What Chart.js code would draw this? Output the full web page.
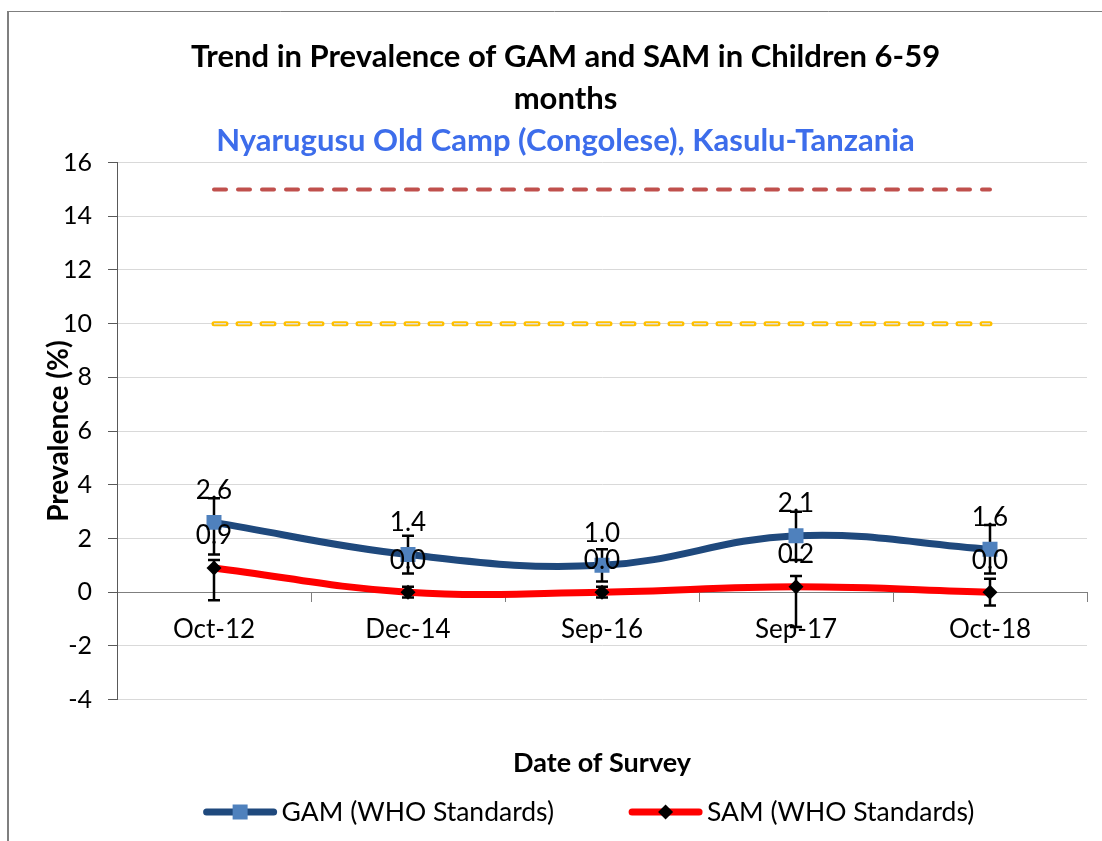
<!DOCTYPE html>
<html>
<head>
<meta charset="utf-8">
<title>Trend in Prevalence of GAM and SAM</title>
<script src="https://cdn.jsdelivr.net/npm/chart.js@4.4.1/dist/chart.umd.min.js"></script>
<style>
  html, body { margin: 0; padding: 0; background: #fff; }
  #wrap { width: 1102px; height: 841px; }
</style>
</head>
<body>
<div id="wrap"><canvas id="trendChart" width="1102" height="841"></canvas></div>
<script>
// Data survei
const surveyDates = ['Oct-12', 'Dec-14', 'Sep-16', 'Sep-17', 'Oct-18'];
const gamValues = [2.6, 1.4, 1.0, 2.1, 1.6];
const samValues = [0.9, 0.0, 0.0, 0.2, 0.0];
// Interval kepercayaan (error bar)
const gamLow = [1.4, 0.7, 0.4, 1.2, 0.7];
const gamHigh = [3.5, 2.1, 1.6, 3.0, 2.5];
const samLow = [-0.3, -0.2, -0.2, -1.3, -0.5];
const samHigh = [1.2, 0.2, 0.2, 0.6, 0.5];
// Ambang batas
const criticalLevel = [15, 15, 15, 15, 15];
const seriousLevel = [10, 10, 10, 10, 10];
// Sumbu Y
const yMin = -4;
const yMax = 16;
const yStep = 2;

const seriesLabels = ['GAM (WHO Standards)', 'SAM (WHO Standards)'];

const FONT = 'Lato, "Open Sans", "Liberation Sans", sans-serif';
Chart.defaults.font.family = FONT;
Chart.defaults.color = '#000';

// Bingkai luar chart
const framePlugin = {
    id: 'frame',
    beforeDraw(chart) {
        const ctx = chart.ctx;
        ctx.save();
        ctx.fillStyle = '#fff';
        ctx.fillRect(0, 0, chart.width, chart.height);
        ctx.strokeStyle = '#7f7f7f';
        ctx.lineWidth = 2;
        ctx.beginPath();
        ctx.moveTo(8, 11);
        ctx.lineTo(8, chart.height);
        ctx.stroke();
        ctx.lineWidth = 1;
        ctx.beginPath();
        ctx.moveTo(7, 11.5);
        ctx.lineTo(chart.width, 11.5);
        ctx.stroke();
        ctx.restore();
    }
};

// Error bar hitam untuk GAM dan SAM
const errorBarPlugin = {
    id: 'errorBars',
    beforeDatasetsDraw(chart) {
        const ctx = chart.ctx;
        const xs = chart.scales.x;
        const ys = chart.scales.y;
        ctx.save();
        ctx.strokeStyle = '#000';
        ctx.lineWidth = 2.5;
        [[gamLow, gamHigh], [samLow, samHigh]].forEach(([lo, hi]) => {
            surveyDates.forEach((d, i) => {
                const px = Math.round(xs.getPixelForValue(i));
                const y1 = ys.getPixelForValue(lo[i]);
                const y2 = ys.getPixelForValue(hi[i]);
                ctx.beginPath();
                ctx.moveTo(px, y1);
                ctx.lineTo(px, y2);
                ctx.moveTo(px - 6, y1);
                ctx.lineTo(px + 6, y1);
                ctx.moveTo(px - 6, y2);
                ctx.lineTo(px + 6, y2);
                ctx.stroke();
            });
        });
        ctx.restore();
    }
};

// Label nilai di atas titik
const valueLabelPlugin = {
    id: 'valueLabels',
    afterDatasetsDraw(chart) {
        const ctx = chart.ctx;
        ctx.save();
        ctx.font = '26px ' + FONT;
        ctx.fillStyle = '#000';
        ctx.textAlign = 'center';
        ctx.textBaseline = 'middle';
        [0, 1].forEach(di => {
            const meta = chart.getDatasetMeta(di);
            const values = chart.data.datasets[di].data;
            meta.data.forEach((pt, i) => {
                ctx.fillText(values[i].toFixed(1), pt.x, pt.y - 32);
            });
        });
        ctx.restore();
    }
};

// Legenda manual (garis + penanda)
const legendPlugin = {
    id: 'customLegend',
    afterDraw(chart) {
        const ctx = chart.ctx;
        const cy = 812;
        const sampleW = 73;
        const gap = 5;
        const itemGap = 75;
        ctx.save();
        ctx.font = '26.5px ' + FONT;
        ctx.textBaseline = 'middle';
        const w0 = ctx.measureText(seriesLabels[0]).width;
        const w1 = ctx.measureText(seriesLabels[1]).width;
        const total = sampleW + gap + w0 + itemGap + sampleW + gap + w1;
        let x = 589 - total / 2;
        const items = [
            {text: seriesLabels[0], w: w0, line: '#1F497D', marker: 'rect', fill: '#4F81BD'},
            {text: seriesLabels[1], w: w1, line: '#FF0000', marker: 'diamond', fill: '#000'}
        ];
        items.forEach(it => {
            ctx.strokeStyle = it.line;
            ctx.lineWidth = 7;
            ctx.lineCap = 'round';
            ctx.beginPath();
            ctx.moveTo(x + 3, cy);
            ctx.lineTo(x + sampleW - 3, cy);
            ctx.stroke();
            const mx = x + sampleW / 2;
            ctx.fillStyle = it.fill;
            ctx.beginPath();
            if (it.marker === 'rect') {
                ctx.rect(mx - 7.5, cy - 7.5, 15, 15);
            } else {
                ctx.moveTo(mx - 7.5, cy);
                ctx.lineTo(mx, cy - 7.5);
                ctx.lineTo(mx + 7.5, cy);
                ctx.lineTo(mx, cy + 7.5);
                ctx.closePath();
            }
            ctx.fill();
            ctx.fillStyle = '#000';
            ctx.textAlign = 'left';
            ctx.fillText(it.text, x + sampleW + gap, cy);
            x += sampleW + gap + it.w + itemGap;
        });
        ctx.restore();
    }
};

const ctx = document.getElementById('trendChart').getContext('2d');
window.trendChart = new Chart(ctx, {
    type: 'line',
    data: {
        labels: surveyDates,
        datasets: [
            {
                label: seriesLabels[0],
                data: gamValues,
                xAxisID: 'x',
                borderColor: '#1F497D',
                borderWidth: 7,
                tension: 0.4,
                pointStyle: 'rect',
                pointRadius: 10.6,
                pointHoverRadius: 10.6,
                pointBackgroundColor: '#4F81BD',
                pointBorderColor: '#4F81BD',
                pointBorderWidth: 0,
                fill: false
            },
            {
                label: seriesLabels[1],
                data: samValues,
                xAxisID: 'x',
                borderColor: '#FF0000',
                borderWidth: 7,
                tension: 0.4,
                pointStyle: 'rectRot',
                pointRadius: 7.5,
                pointHoverRadius: 7.5,
                pointBackgroundColor: '#000',
                pointBorderColor: '#000',
                pointBorderWidth: 0,
                fill: false
            },
            {
                label: 'Critical (15%)',
                data: criticalLevel,
                xAxisID: 'x',
                borderColor: '#C0504D',
                borderWidth: 4,
                borderDash: [12, 12],
                borderCapStyle: 'round',
                pointRadius: 0,
                tension: 0,
                fill: false
            },
            {
                label: 'Serious inner',
                data: seriousLevel,
                xAxisID: 'x',
                borderColor: '#E2DFD2',
                borderWidth: 1.5,
                borderDash: [12, 12],
                borderCapStyle: 'butt',
                pointRadius: 0,
                tension: 0,
                fill: false
            },
            {
                label: 'Serious (10%)',
                data: seriousLevel,
                xAxisID: 'x',
                borderColor: '#FFC000',
                borderWidth: 5,
                borderDash: [12, 12],
                borderCapStyle: 'round',
                pointRadius: 0,
                tension: 0,
                fill: false
            }
        ]
    },
    options: {
        responsive: false,
        animation: false,
        events: [],
        layout: {
            // padding kiri agar judul berada di tengah seperti aslinya
            padding: {top: 24, left: 44, right: 15, bottom: 0}
        },
        scales: {
            x: {
                type: 'category',
                position: {y: 0},
                offset: true,
                grid: {
                    offset: true,
                    drawOnChartArea: false,
                    tickLength: 9,
                    color: '#7F7F7F'
                },
                border: {color: '#7F7F7F', width: 1},
                ticks: {
                    font: {size: 26},
                    color: '#000',
                    padding: 13,
                    maxRotation: 0,
                    autoSkip: false
                }
            },
            xTitle: {
                type: 'category',
                axis: 'x',
                position: 'bottom',
                offset: true,
                ticks: {display: false},
                grid: {display: false, drawTicks: false},
                border: {display: false},
                title: {
                    display: true,
                    text: 'Date of Survey',
                    font: {size: 27, weight: 'bold'},
                    color: '#000',
                    padding: {top: 47, bottom: 62}
                }
            },
            y: {
                min: yMin,
                max: yMax,
                ticks: {
                    stepSize: yStep,
                    font: {size: 25},
                    color: '#000',
                    padding: 16
                },
                grid: {
                    color: '#D9D9D9',
                    tickColor: '#595959',
                    tickLength: 9,
                    lineWidth: 1
                },
                border: {color: '#595959', width: 1},
                title: {
                    display: true,
                    text: 'Prevalence (%)',
                    font: {size: 28, weight: 'bold'},
                    color: '#000',
                    padding: {top: -2, bottom: 0}
                },
                afterFit(scale) {
                    scale.width = 73;
                }
            }
        },
        plugins: {
            legend: {display: false},
            tooltip: {enabled: false},
            title: {
                display: true,
                text: ['Trend in Prevalence of GAM and SAM in Children 6-59', 'months'],
                font: {size: 31, weight: 'bold', lineHeight: 1.35},
                color: '#000',
                padding: {top: 12, bottom: 0}
            },
            subtitle: {
                display: true,
                text: 'Nyarugusu Old Camp (Congolese), Kasulu-Tanzania',
                font: {size: 31, weight: 'bold', lineHeight: 1.35},
                color: '#3D6DEB',
                padding: {top: 0, bottom: 1}
            }
        }
    },
    plugins: [framePlugin, errorBarPlugin, valueLabelPlugin, legendPlugin]
});
</script>
</body>
</html>
